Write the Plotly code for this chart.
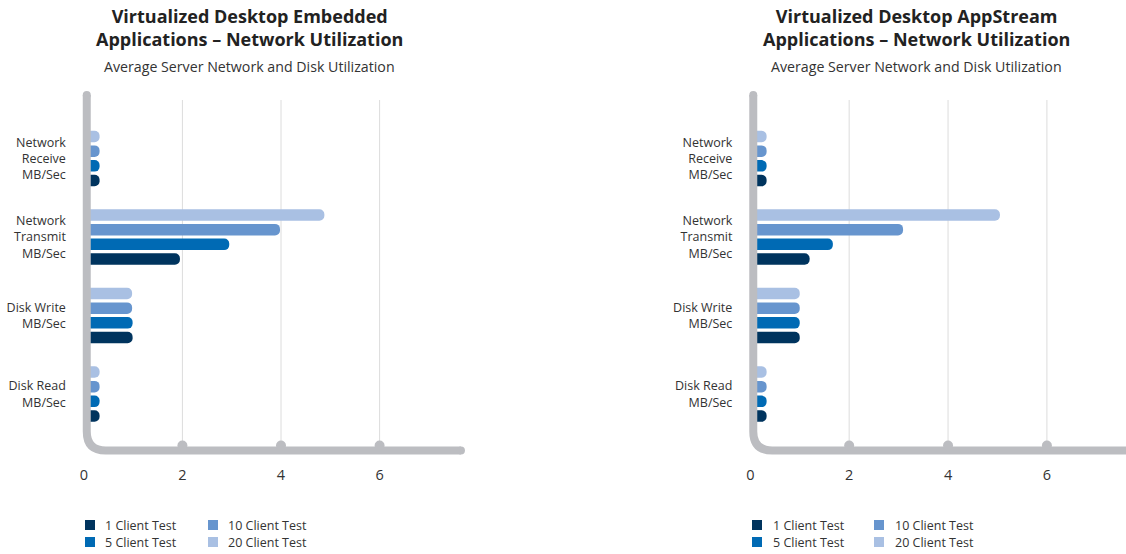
import plotly.graph_objects as go

W, H = 1126, 554

categories = ["Disk Read<br>MB/Sec", "Disk Write<br>MB/Sec",
              "Network<br>Transmit<br>MB/Sec", "Network<br>Receive<br>MB/Sec"]
series_names = ["1 Client Test", "5 Client Test", "10 Client Test", "20 Client Test"]
colors = ["#00345e", "#006ab4", "#6795ce", "#a9c0e3"]

# values per series, in order of categories (Disk Read, Disk Write, Net Transmit, Net Receive)
embedded_1 = [0.32, 0.99, 1.95, 0.32]
embedded_5 = [0.32, 0.99, 2.95, 0.32]
embedded_10 = [0.32, 0.98, 3.98, 0.32]
embedded_20 = [0.32, 0.98, 4.88, 0.32]

appstream_1 = [0.33, 1.0, 1.2, 0.33]
appstream_5 = [0.33, 1.0, 1.67, 0.33]
appstream_10 = [0.33, 1.0, 3.09, 0.33]
appstream_20 = [0.33, 1.0, 5.05, 0.33]

tick_vals = [0, 2, 4, 6]
tick_text = ["0", "2", "4", "6"]

titles = ["Virtualized Desktop Embedded<br>Applications – Network Utilization",
          "Virtualized Desktop AppStream<br>Applications – Network Utilization"]
subtitle = "Average Server Network and Disk Utilization"

FONT = "Open Sans"
AXIS_GREY = "#bcbdc1"
GRID_GREY = "#dcdcdc"
TEXT = "#333333"

panels = [
    dict(xa="x", ya="y", data=[embedded_1, embedded_5, embedded_10, embedded_20],
         px0=83.8, ppu=49.3, xr=[-0.1, 7.85], title=titles[0], tcx=249,
         leg_sq=[85, 208], leg_tx=[103, 226]),
    dict(xa="x2", ya="y2", data=[appstream_1, appstream_5, appstream_10, appstream_20],
         px0=750.3, ppu=49.44, xr=[-0.1, 7.6], title=titles[1], tcx=916,
         leg_sq=[752, 874], leg_tx=[771, 893]),
]

fig = go.Figure()
shapes = []
annotations = []

def py(p):
    return 1 - p / H

# y-domain in pixels
Y_TOP, Y_BOT = 90, 464
cat_px = 78.5
y_range = [-(Y_BOT - 394) / cat_px, 3 + (158.5 - Y_TOP) / cat_px]

for i, p in enumerate(panels):
    for j in range(4):
        fig.add_trace(go.Bar(
            x=p["data"][j], y=categories, orientation="h",
            name=series_names[j], marker=dict(color=colors[j], cornerradius="50%", line=dict(width=0)),
            xaxis=p["xa"], yaxis=p["ya"], showlegend=False, hoverinfo="x+y+name",
        ))
    x_left_px = p["px0"] + p["xr"][0] * p["ppu"]
    x_right_px = p["px0"] + p["xr"][1] * p["ppu"]
    dom = [x_left_px / W, min(1.0, x_right_px / W)]
    axname = "xaxis" if i == 0 else "xaxis2"
    yname = "yaxis" if i == 0 else "yaxis2"
    fig.update_layout(**{
        axname: dict(domain=dom, range=p["xr"], tickvals=tick_vals, ticktext=tick_text,
                     showgrid=False, zeroline=False, showline=False, anchor=p["ya"],
                     tickfont=dict(family=FONT, size=14.5, color=TEXT), ticks="",
                     fixedrange=True),
        yname: dict(domain=[py(Y_BOT), py(Y_TOP)], range=y_range, type="category",
                    categoryorder="array", categoryarray=categories,
                    showgrid=False, zeroline=False, showline=False, anchor=p["xa"],
                    tickfont=dict(family=FONT, size=12.5, color=TEXT), ticks="",
                    ticklabelstandoff=12, fixedrange=True),
    })

    xr = p["xa"]
    ppu = p["ppu"]
    axis_y = py(450.5)
    vx = 0.06
    # gridlines
    for tv in tick_vals[1:]:
        shapes.append(dict(type="line", xref=xr, yref="paper", x0=tv, x1=tv,
                           y0=axis_y, y1=py(100), line=dict(color=GRID_GREY, width=1),
                           layer="below"))
    # axis L-shape with rounded corner
    rx = 19 / ppu
    ry = 19 / H
    x_end = 7.65
    top_y = py(95)
    path = (f"M {vx},{top_y} L {vx},{axis_y + ry} "
            f"Q {vx},{axis_y} {vx + rx},{axis_y} L {x_end},{axis_y}")
    shapes.append(dict(type="path", xref=xr, yref="paper", path=path,
                       line=dict(color=AXIS_GREY, width=8)))
    # round caps
    r = 4
    for cx, cyp in [(vx, top_y), (x_end, axis_y)]:
        shapes.append(dict(type="circle", xref=xr, yref="paper",
                           x0=cx - r / ppu, x1=cx + r / ppu, y0=cyp - r / H, y1=cyp + r / H,
                           fillcolor=AXIS_GREY, line=dict(width=0)))
    # tick bumps
    rb = 5
    for tv in tick_vals[1:]:
        cyp = py(445.5)
        shapes.append(dict(type="circle", xref=xr, yref="paper",
                           x0=tv - rb / ppu, x1=tv + rb / ppu, y0=cyp - rb / H, y1=cyp + rb / H,
                           fillcolor=AXIS_GREY, line=dict(width=0)))

    # titles
    annotations.append(dict(text=f"<b>{p['title']}</b>", xref="paper", yref="paper",
                            x=p["tcx"] / W, y=py(27), xanchor="center", yanchor="middle",
                            showarrow=False, font=dict(family=FONT, size=18, color="#222222")))
    annotations.append(dict(text=subtitle, xref="paper", yref="paper",
                            x=p["tcx"] / W, y=py(66), xanchor="center", yanchor="middle",
                            showarrow=False, font=dict(family=FONT, size=14.2, color=TEXT)))

    # legend
    rows_y = [525, 542]
    order = [(0, 0, 0), (1, 0, 1), (2, 1, 0), (3, 1, 1)]  # series, col, row
    for s, c, rr in order:
        sx = p["leg_sq"][c]
        sy = rows_y[rr]
        shapes.append(dict(type="rect", xref="paper", yref="paper",
                           x0=sx / W, x1=(sx + 10) / W, y0=py(sy + 5), y1=py(sy - 5),
                           fillcolor=colors[s], line=dict(width=0)))
        annotations.append(dict(text=series_names[s], xref="paper", yref="paper",
                                x=p["leg_tx"][c] / W, y=py(sy), xanchor="left", yanchor="middle",
                                showarrow=False, font=dict(family=FONT, size=12.5, color=TEXT)))

fig.update_layout(
    width=W, height=H, margin=dict(l=0, r=0, t=0, b=0),
    paper_bgcolor="white", plot_bgcolor="white",
    barmode="group", bargap=0.25, bargroupgap=0.22,
    shapes=shapes, annotations=annotations, showlegend=False,
    font=dict(family=FONT, color=TEXT),
)

fig.write_html("out.html")
